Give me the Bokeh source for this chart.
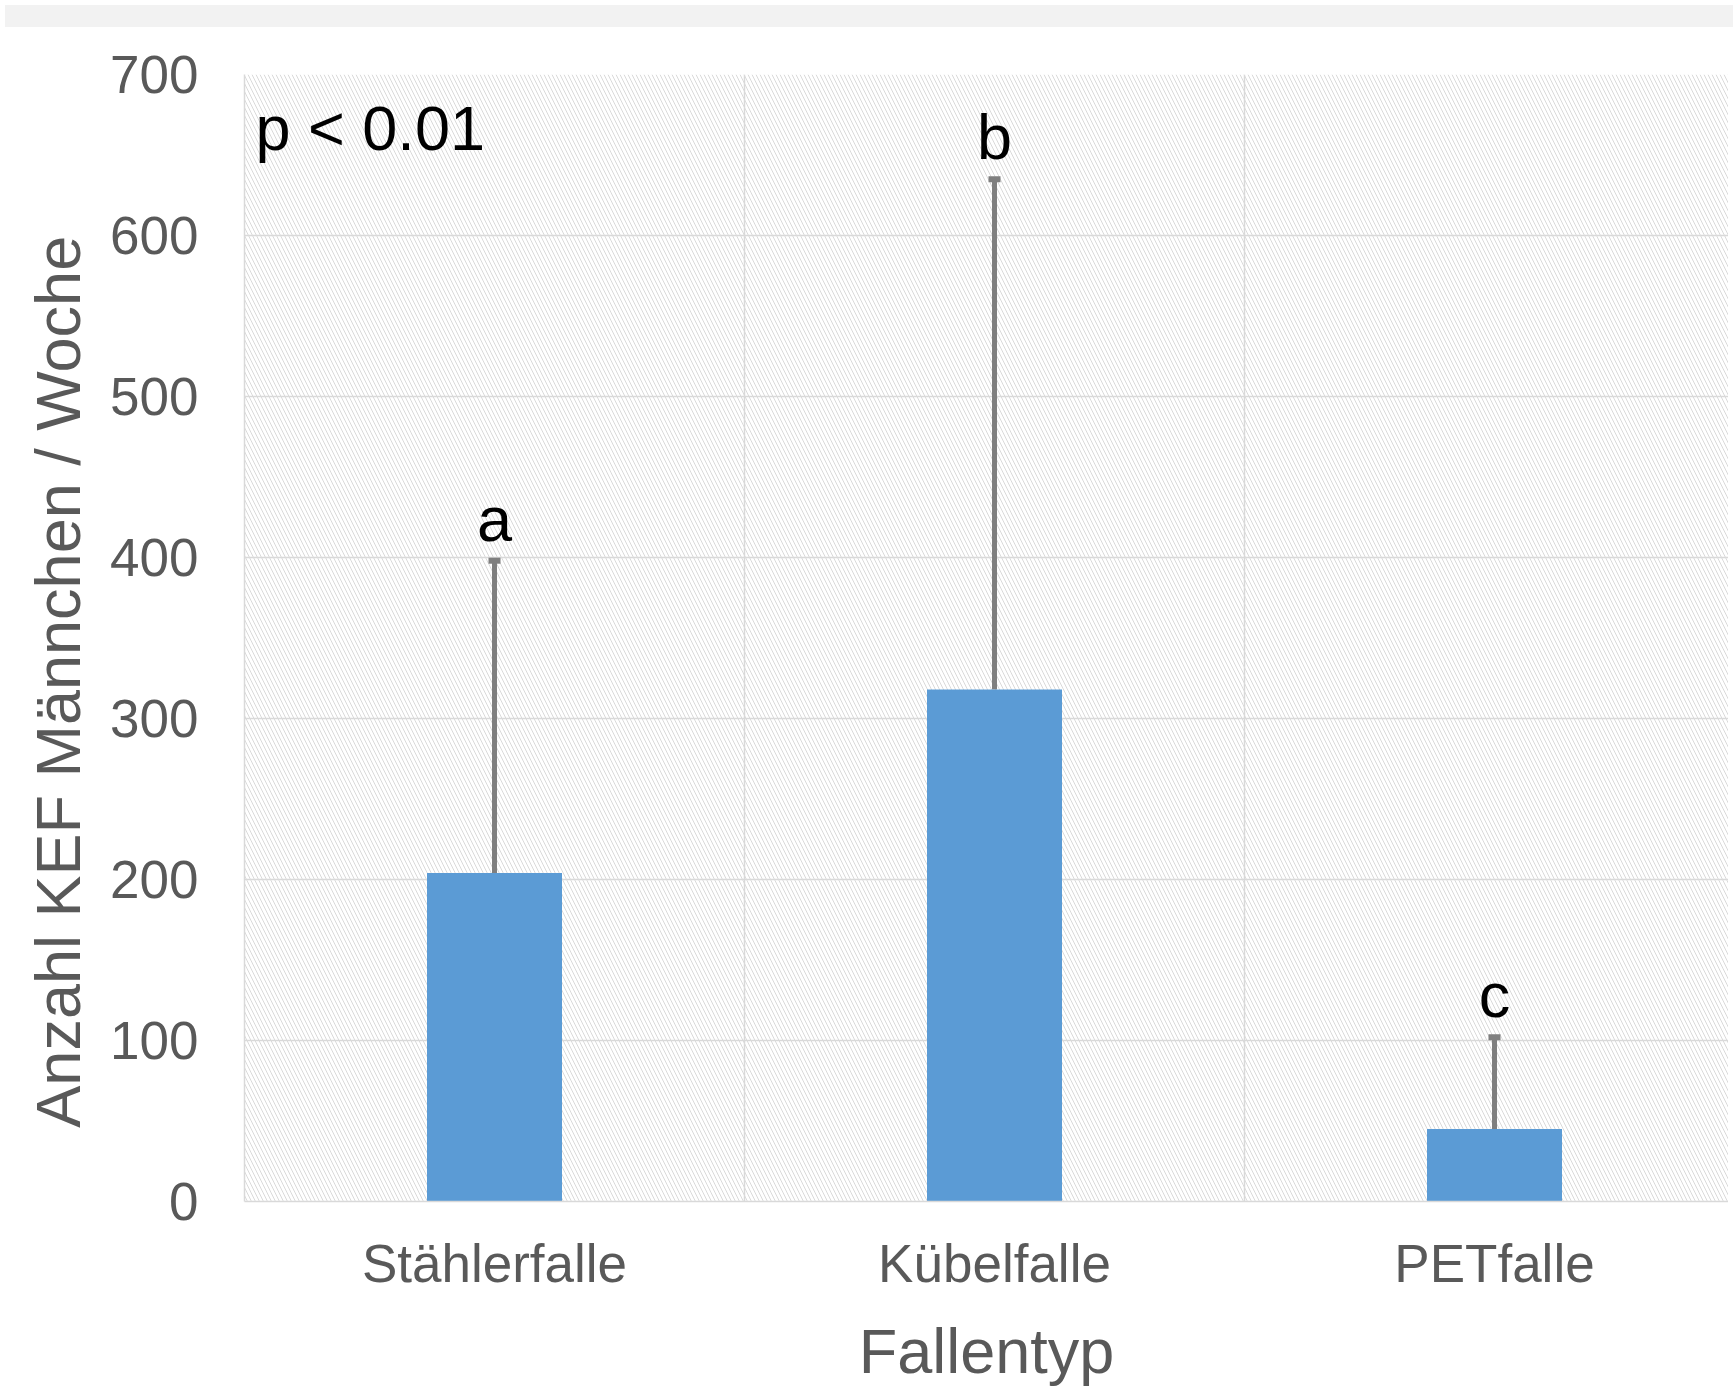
from bokeh.plotting import figure
from bokeh.models import Range1d, FixedTicker, Label, LabelSet, ColumnDataSource, Div
from bokeh.core.properties import value
from bokeh.layouts import column
from bokeh.embed import file_html
from bokeh.resources import INLINE

# ---- data ----
categories = ["Stählerfalle", "Kübelfalle", "PETfalle"]
means = [204, 318, 45]
upper = [398, 635, 102]
letters = ["a", "b", "c"]
y_ticks = [0, 100, 200, 300, 400, 500, 600, 700]

FONT = "Liberation Sans"
GRAY_TXT = "#595959"

xpos = [i + 0.5 for i in range(len(categories))]
src = ColumnDataSource(dict(x=xpos, top=means, upper=upper, letters=letters))

p = figure(width=1728, height=1356, output_backend="svg", toolbar_location=None,
           x_range=Range1d(0, 2.968), y_range=Range1d(0, 700),
           min_border_left=244, min_border_right=0, min_border_top=42, min_border_bottom=184)
p.outline_line_color = None
p.background_fill_color = "white"
p.border_fill_color = "white"

# hatched plot area
p.quad(left=0, right=3, bottom=0, top=700, fill_alpha=0, line_alpha=0,
       hatch_pattern="\\", hatch_color="#dadada", hatch_scale=8, hatch_weight=1)

# grid
p.ygrid.ticker = FixedTicker(ticks=y_ticks)
p.ygrid.grid_line_color = "#d9d9d9"
p.ygrid.grid_line_width = 1.5
p.xgrid.ticker = FixedTicker(ticks=[0, 1, 2, 3])
p.xgrid.grid_line_color = "#d9d9d9"
p.xgrid.grid_line_width = 1.5

# error bars (stem + cap)
p.segment(x0="x", y0="top", x1="x", y1="upper", source=src, line_color="#7f7f7f", line_width=5)
p.rect(x="x", y="upper", width=12, height=6, width_units="screen", height_units="screen",
       source=src, fill_color="#7f7f7f", line_color=None)

# bars
p.vbar(x="x", top="top", bottom=0, width=0.27, source=src, fill_color="#5b9bd5", line_color=None)

# significance letters
p.add_layout(LabelSet(x="x", y="upper", text="letters", source=src, text_align="center",
                      text_baseline="alphabetic", y_offset=20, text_font_size=value("63px"),
                      text_color=value("black"), text_font=value(FONT)))

p.add_layout(Label(x=0.022, y=667, text="p < 0.01", text_font_size="63px",
                   text_color="black", text_font=FONT, text_baseline="alphabetic"))

# axes
p.xaxis.ticker = FixedTicker(ticks=xpos)
p.xaxis.major_label_overrides = {x: c for x, c in zip(xpos, categories)}
p.yaxis.ticker = FixedTicker(ticks=y_ticks)
for ax in (p.xaxis[0], p.yaxis[0]):
    ax.major_tick_in = 0
    ax.major_tick_out = 0
    ax.minor_tick_in = 0
    ax.minor_tick_out = 0
    ax.axis_line_color = "#d9d9d9"
    ax.axis_line_width = 1.5
    ax.major_label_text_font = FONT
    ax.major_label_text_font_size = "53px"
    ax.major_label_text_color = GRAY_TXT
    ax.axis_label_text_font = FONT
    ax.axis_label_text_font_style = "normal"
    ax.axis_label_text_color = GRAY_TXT
    ax.axis_label_text_font_size = "63px"
p.xaxis.major_label_standoff = 32
p.yaxis.major_label_standoff = 46
p.xaxis.axis_label = "Fallentyp"
p.xaxis.axis_label_standoff = 20
# trailing non-breaking spaces push the visible title slightly below the frame centre, as in the original
p.yaxis.axis_label = "Anzahl KEF Männchen / Woche" + "\u00a0" * 5
p.yaxis.axis_label_standoff = 14

band = Div(text="", width=1728, height=22, styles={"background-color": "#f2f2f2"})
layout = column(band, p, spacing=0)

open("out.html", "w").write(file_html(layout, INLINE))
